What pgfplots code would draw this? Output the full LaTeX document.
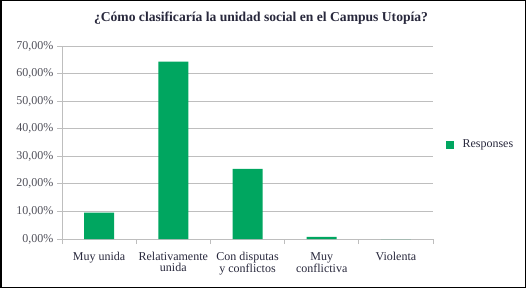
\documentclass[border=0pt]{standalone}
\usepackage{pgfplots}
\pgfplotsset{compat=1.18}
\usepackage{fontspec}
\setmainfont{Liberation Serif}
\definecolor{bargreen}{RGB}{0,166,96}
\definecolor{txt}{RGB}{40,40,60}
\definecolor{ticktxt}{RGB}{80,80,90}
\definecolor{gridc}{RGB}{190,190,190}
\begin{document}
\begin{tikzpicture}[x=1bp,y=1bp]
\useasboundingbox (0,0) rectangle (526,288);
\draw[line width=1.5bp] (0.75,0.75) rectangle (525.25,287.25);
\node[font=\fontsize{13.6bp}{15bp}\selectfont\bfseries, text=txt] at (261,270) {¿Cómo clasificaría la unidad social en el Campus Utopía?};
\begin{axis}[
  at={(62bp,49bp)}, anchor=south west,
  scale only axis, width=371bp, height=193bp,
  xmin=-0.5, xmax=4.5, ymin=0, ymax=70,
  axis x line*=bottom, axis y line*=left,
  axis line style={gridc, line width=0.8bp},
  xtick={0,1,2,3,4},
  xticklabels={Muy unida, Relativamente\\unida, Con disputas\\y conflictos, Muy\\conflictiva, Violenta},
  x tick label style={align=center, text=txt, font=\fontsize{12bp}{11bp}\selectfont, yshift=-5bp},
  major x tick style={draw=none},
  minor xtick={-0.5,0.5,1.5,2.5,3.5,4.5},
  minor x tick style={gridc, line width=0.8bp},
  minor tick length=5bp,
  tick align=outside,
  ytick={0,10,...,70},
  major tick length=5bp,
  y tick style={gridc, line width=0.8bp},
  ymajorgrids, grid style={gridc, line width=0.8bp},
  yticklabel={\pgfmathprintnumber[fixed,fixed zerofill,precision=2,use comma,assume math mode=true]{\tick}\%},
  y tick label style={text=ticktxt, font=\fontsize{12bp}{12bp}\selectfont},
  ybar, bar width=30bp,
  clip=false,
]
\addplot[fill=bargreen, draw=none] coordinates {(0,9.6) (1,64.3) (2,25.4) (3,0.8) (4,0)};
\end{axis}
\fill[bargreen] (446,139) rectangle (454,147);
\node[anchor=west, text=txt, font=\fontsize{12bp}{14bp}\selectfont] at (459,143) {Responses};
\end{tikzpicture}
\end{document}
